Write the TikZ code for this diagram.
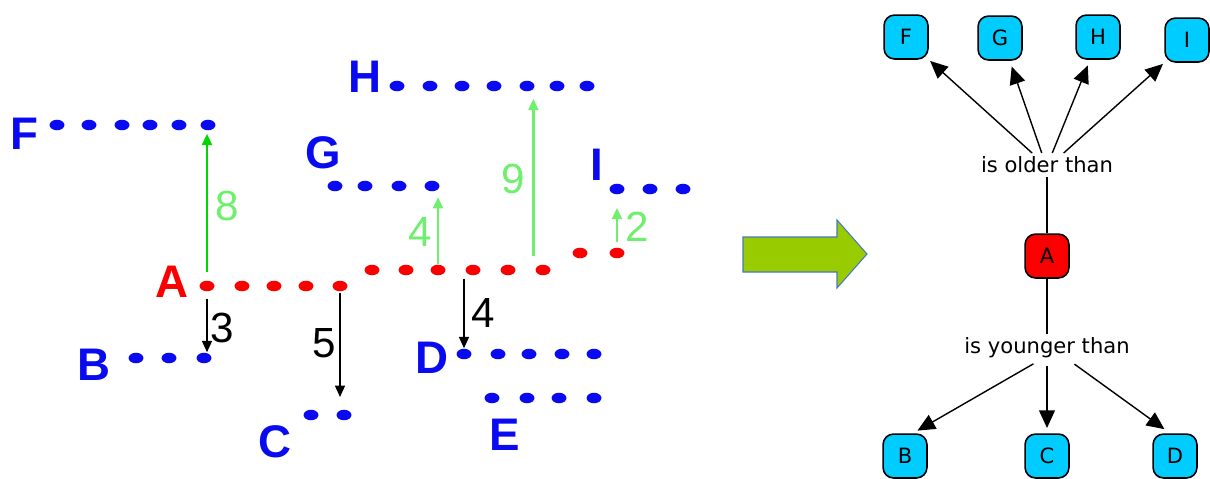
\documentclass[tikz,border=0pt]{standalone}
\usepackage{fontspec}
\setmainfont{Liberation Sans}
\newfontfamily\mapfont{DejaVu Sans}
\usetikzlibrary{arrows.meta, shapes.geometric, calc, positioning}
\definecolor{dotblue}{RGB}{10,10,240}
\definecolor{dotred}{RGB}{250,0,0}
\definecolor{darkgreen}{RGB}{0,215,0}
\definecolor{lightgreen}{RGB}{110,240,110}
\definecolor{boxcyan}{RGB}{0,204,255}
\definecolor{arrowgreen}{RGB}{153,204,0}
\definecolor{arrowedge}{RGB}{70,120,190}

\begin{document}
\begin{tikzpicture}[x=0.02cm, y=-0.02cm,
    bdot/.style={ellipse, fill=dotblue, inner sep=0pt, minimum width=8.5pt, minimum height=6pt},
    rdot/.style={bdot, fill=dotred},
    letter/.style={font=\fontsize{26}{30}\selectfont\bfseries, text=dotblue, inner sep=0pt},
    num/.style={font=\fontsize{24}{28}\selectfont, inner sep=0pt},
    garrow/.style={-{Triangle[length=6.5pt, width=5.5pt]}, line width=1.6pt, draw=darkgreen},
    larrow/.style={garrow, draw=lightgreen},
    karrow/.style={-{Triangle[length=6.5pt, width=5.5pt]}, line width=1.3pt},
    person/.style={draw, rounded corners=6pt, fill=boxcyan, minimum size=25pt, line width=0.9pt, font=\mapfont\fontsize{12}{14}\selectfont},
    relation/.style={font=\mapfont\fontsize{12}{14}\selectfont, inner sep=2pt},
    link/.style={-{Triangle[length=10pt, width=9pt]}, line width=0.8pt}
]
\useasboundingbox (0,0) rectangle (1210,478);

% Dot rows
\foreach \x [count=\i] in {57,89,122,150,179,208} \node[bdot] (F\i) at (\x,125) {};
\foreach \x [count=\i] in {335,365,399,432} \node[bdot] (G\i) at (\x,186) {};
\foreach \x [count=\i] in {397,430,462,494,527,557,587} \node[bdot] (H\i) at (\x,86) {};
\foreach \x [count=\i] in {617,650,683} \node[bdot] (I\i) at (\x,189) {};
\foreach \x [count=\i] in {136,169,204} \node[bdot] (B\i) at (\x,358) {};
\foreach \x [count=\i] in {311,344} \node[bdot] (C\i) at (\x,415) {};
\foreach \x [count=\i] in {464,498,529,562,594} \node[bdot] (D\i) at (\x,354) {};
\foreach \x [count=\i] in {492,527,559,594} \node[bdot] (E\i) at (\x,398) {};
% Red row of A
\foreach \x [count=\i] in {207,242,274,306,340} \node[rdot] (A\i) at (\x,286) {};
\foreach \x [count=\i from 6] in {372,406,438,473,508,543} \node[rdot] (A\i) at (\x,270) {};
\foreach \x [count=\i from 12] in {580,617} \node[rdot] (A\i) at (\x,253) {};

% Letters
\node[letter] (labF) at (24,134) {F};
\node[letter, text=dotred] (labA) at (172,282) {A};
\node[letter] (labB) at (94,365) {B};
\node[letter] (labC) at (275,442) {C};
\node[letter] (labG) at (323,153) {G};
\node[letter] (labH) at (365,77) {H};
\node[letter] (labI) at (597,165) {I};
\node[letter] (labD) at (432,358) {D};
\node[letter] (labE) at (505,435) {E};

% Age differences
\draw[garrow, shorten <=5pt, shorten >=1.7pt] (A1) -- (A1 |- F6.south);
\node[num, text=lightgreen] (n8) at (227,206) {8};
\draw[karrow, shorten <=4pt] (A1) -- (A1 |- B3.north);
\node[num] (n3) at (222,328) {3};
\draw[karrow, shorten <=0.5pt, shorten >=7pt] (A5) -- (A5 |- C2.north);
\node[num] (n5) at (324,343) {5};
\draw[larrow, shorten >=3pt] (A8.north) -- (A8 |- G4.south);
\node[num, text=lightgreen] (n4g) at (420,232) {4};
\coordinate (nineBase) at ($(A11.north)!0.6!(A11.north -| H5)$);
\draw[larrow, shorten <=4.5pt, shorten >=4pt] (nineBase) -- (nineBase |- H5.south);
\node[num, text=lightgreen] (n9) at (513,179) {9};
\draw[larrow, shorten <=3pt, shorten >=7.4pt] (A13.north) -- (A13 |- I1.south);
\node[num, text=lightgreen] (n2) at (637,227) {2};
\draw[karrow, shorten <=1.7pt] (A9.south -| D1) -- (D1.north);
\node[num] (n4k) at (483,313) {4};

% Big arrow
\draw[fill=arrowgreen, draw=arrowedge, line width=0.6pt] (743,237) -- (837,237) -- (837,220) -- (867,254) -- (837,288) -- (837,272) -- (743,272) -- cycle;

% Concept map
\node[person] (boxF) at (906,37) {F};
\node[person] (boxG) at (1000,38) {G};
\node[person] (boxH) at (1098,37) {H};
\node[person] (boxI) at (1187,40) {I};
\node[relation] (older) at (1047,165) {is older than};
\node[person, fill=dotred] (boxA) at (1047,256) {A};
\node[relation] (younger) at (1047,348) {is younger than};
\node[person] (boxB) at (905,456) {B};
\node[person] (boxC) at (1047,456) {C};
\node[person] (boxD) at (1175,456) {D};

\draw[line width=0.8pt] (boxA) -- (older);
\draw[line width=0.8pt] (boxA) -- (younger);
\draw[link, shorten >=1pt] ([xshift=-8.5pt]older.north) -- (boxF.south east);
\draw[link, shorten >=3.5pt] ([xshift=-3pt]older.north) -- ([xshift=5.5pt]boxG.south);
\draw[link, shorten >=3.5pt] ([xshift=3pt]older.north) -- ([xshift=-4.5pt]boxH.south);
\draw[link, shorten >=1pt] ([xshift=9.5pt]older.north) -- (boxI.south west);
\draw[link, shorten <=2pt, shorten >=3pt] ([xshift=-6pt]younger.south) -- ([xshift=4.5pt]boxB.north);
\draw[link, shorten <=2pt, shorten >=3pt] (younger.south) -- (boxC.north);
\draw[link, shorten <=2pt, shorten >=4pt] ([xshift=14pt]younger.south) -- ([xshift=-2.8pt]boxD.north);

\end{tikzpicture}
\end{document}
